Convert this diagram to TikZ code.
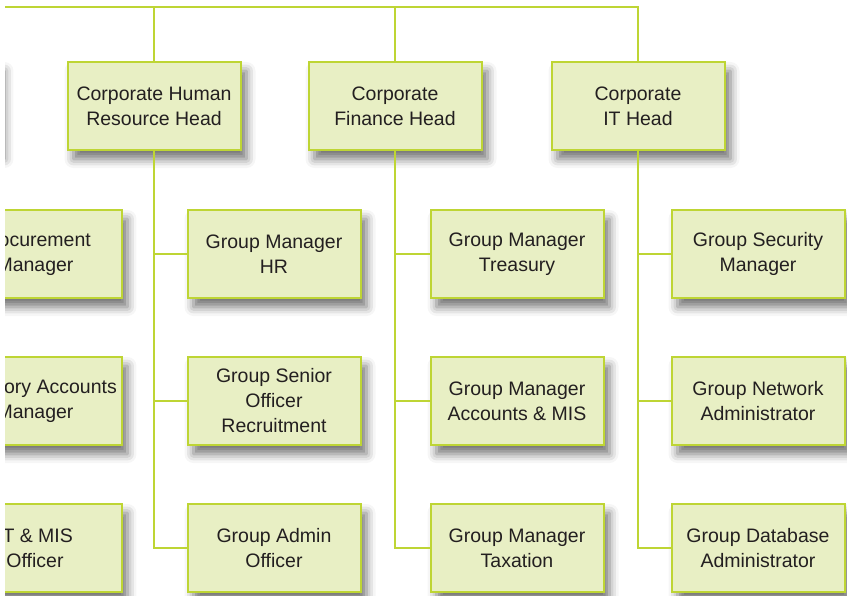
\documentclass[tikz,border=0pt]{standalone}
\usepackage{fontspec}
\setmainfont{Liberation Sans}
\usepackage{tikz}
\usetikzlibrary{positioning,shadows.blur}

\definecolor{boxfill}{RGB}{232,239,196}
\definecolor{boxline}{RGB}{190,213,52}
\definecolor{boxtext}{RGB}{35,31,32}

\begin{document}
\begin{tikzpicture}[x=1pt, y=-1pt, %
        box/.style={draw=boxline, fill=boxfill, line width=2pt,
          minimum width=173pt, minimum height=88pt, inner sep=0pt,
          align=center, text=boxtext,
          font=\fontsize{19.5}{25}\selectfont,
          blur shadow={shadow xshift=6pt, shadow yshift=-9pt,
            shadow blur radius=9pt, shadow opacity=55}},
        link/.style={draw=boxline, line width=2pt}
        ]
        \useasboundingbox (0,0) rectangle (847,596);
        \clip (5,0) rectangle (847,596);
        % heads
        \node[box] (prev) at (-88,106) {};
        \node[box] (hr) at (154,106) {Corporate Human\\Resource Head};
        \node[box] (fin) at (395,106) {Corporate\\Finance Head};
        \node[box] (it) at (638,106) {Corporate\\IT Head};
        % staff under each head
        \node[box] (prevA) at (35,254) {Procurement\\Manager};
        \node[box] (prevB) at (35,401) {Statutory Accounts\\Manager};
        \node[box] (prevC) at (35,548) {IT \& MIS\\Officer};
        \node[box] (hrA) at (274,254) {Group Manager\\HR};
        \node[box] (hrB) at (274,401) {Group Senior\\Officer\\Recruitment};
        \node[box] (hrC) at (274,548) {Group Admin\\Officer};
        \node[box] (finA) at (517,254) {Group Manager\\Treasury};
        \node[box] (finB) at (517,401) {Group Manager\\Accounts \& MIS};
        \node[box] (finC) at (517,548) {Group Manager\\Taxation};
        \node[box] (itA) at (758,254) {Group Security\\Manager};
        \node[box] (itB) at (758,401) {Group Network\\Administrator};
        \node[box] (itC) at (758,548) {Group Database\\Administrator};
        % top bus
        \coordinate (bus) at (0,7);
        \draw[link] (prev.north) -- (prev.north |- bus) -- (it.north |- bus) -- (it.north);
        \draw[link] (hr.north) -- (hr.north |- bus);
        \draw[link] (fin.north) -- (fin.north |- bus);
        % branches
        \draw[link] (prev.south) |- (prevA.west);
        \draw[link] (prev.south) |- (prevB.west);
        \draw[link] (prev.south) |- (prevC.west);
        \draw[link] (hr.south) |- (hrA.west);
        \draw[link] (hr.south) |- (hrB.west);
        \draw[link] (hr.south) |- (hrC.west);
        \draw[link] (fin.south) |- (finA.west);
        \draw[link] (fin.south) |- (finB.west);
        \draw[link] (fin.south) |- (finC.west);
        \draw[link] (it.south) |- (itA.west);
        \draw[link] (it.south) |- (itB.west);
        \draw[link] (it.south) |- (itC.west);
      \end{tikzpicture}
\end{document}
